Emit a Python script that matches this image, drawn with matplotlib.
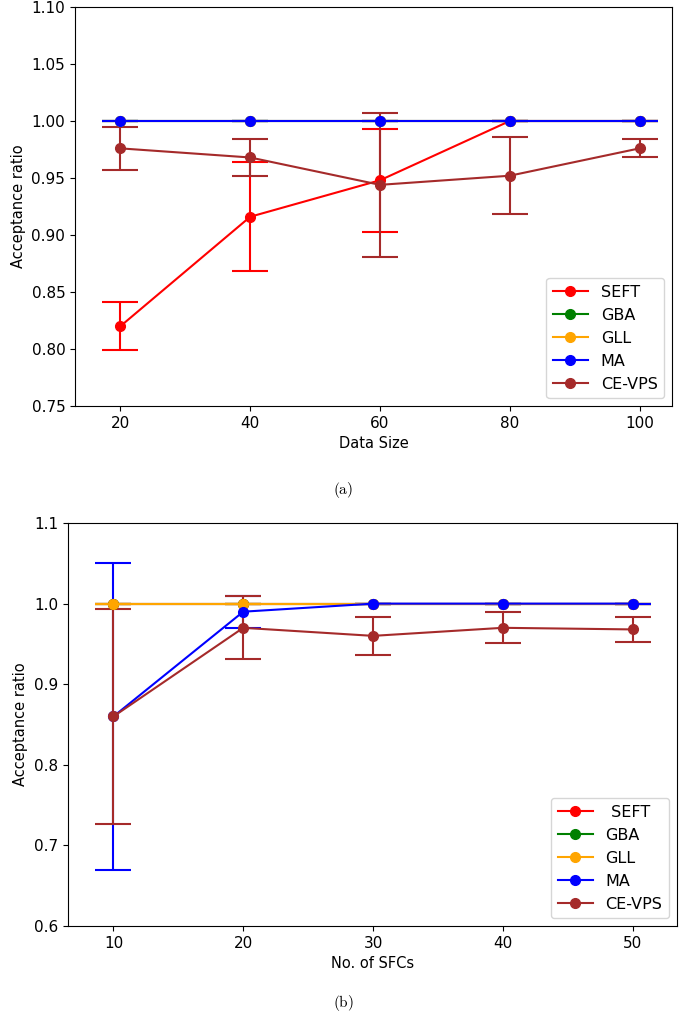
import matplotlib
matplotlib.use("Agg")
import matplotlib.pyplot as plt

plt.rcParams['mathtext.fontset'] = 'cm'

names = ['SEFT', 'GBA', 'GLL', 'MA', 'CE-VPS']
names_b = [' SEFT', 'GBA', 'GLL', 'MA', 'CE-VPS']
colors = ['red', 'green', 'orange', 'blue', 'brown']

# (a) acceptance ratio vs data size
size = [20, 40, 60, 80, 100]
a_mean = {
    'SEFT': [0.820, 0.916, 0.948, 1.0, 1.0],
    'GBA': [1.0, 1.0, 1.0, 1.0, 1.0],
    'GLL': [1.0, 1.0, 1.0, 1.0, 1.0],
    'MA': [1.0, 1.0, 1.0, 1.0, 1.0],
    'CE-VPS': [0.976, 0.968, 0.944, 0.952, 0.976],
}
a_err = {
    'SEFT': [0.021, 0.048, 0.045, 0.0, 0.0],
    'GBA': [0, 0, 0, 0, 0],
    'GLL': [0, 0, 0, 0, 0],
    'MA': [0, 0, 0, 0, 0],
    'CE-VPS': [0.019, 0.016, 0.063, 0.034, 0.008],
}

# (b) acceptance ratio vs number of SFCs
sfcs = [10, 20, 30, 40, 50]
b_mean = {
    'SEFT': [1.0, 1.0, 1.0, 1.0, 1.0],
    'GBA': [1.0, 1.0, 1.0, 1.0, 1.0],
    'GLL': [1.0, 1.0, 1.0, 1.0, 1.0],
    'MA': [0.86, 0.99, 1.0, 1.0, 1.0],
    'CE-VPS': [0.86, 0.97, 0.96, 0.97, 0.968],
}
b_err = {
    'SEFT': [0, 0, 0, 0, 0],
    'GBA': [0, 0, 0, 0, 0],
    'GLL': [0, 0, 0, 0, 0],
    'MA': [0.191, 0.02, 0.0, 0.0, 0.0],
    'CE-VPS': [0.133, 0.039, 0.024, 0.019, 0.015],
}

fig = plt.figure(figsize=(6.85, 10.19), dpi=100)
ax1 = fig.add_axes([0.1095, 0.6016, 0.8715, 0.3915])
ax2 = fig.add_axes([0.0993, 0.0913, 0.8887, 0.3954])


def draw(ax, x, mean, err, labels):
    handles = []
    for n, lab, c in zip(names, labels, colors):
        eb = ax.errorbar(x, mean[n], yerr=err[n], fmt='-o', color=c, label=lab,
                         lw=1.5, ms=7, capsize=13, capthick=1.5, elinewidth=1.5)
        handles.append(eb.lines[0])
    ax.legend(handles=handles, labels=labels, loc='lower right', fontsize=11.5,
              handlelength=2.2)
    ax.tick_params(labelsize=11)
    ax.set_ylabel('Acceptance ratio', fontsize=10.5)


draw(ax1, size, a_mean, a_err, names)
ax1.set_xlim(13, 105)
ax1.set_ylim(0.75, 1.10)
ax1.set_xticks(size)
ax1.set_yticks([0.75, 0.80, 0.85, 0.90, 0.95, 1.00, 1.05, 1.10])
ax1.set_yticklabels(['%.2f' % v for v in ax1.get_yticks()])
ax1.set_xlabel('Data Size', fontsize=10.5)

draw(ax2, sfcs, b_mean, b_err, names_b)
ax2.set_xlim(6.5, 53.4)
ax2.set_ylim(0.6, 1.1)
ax2.set_xticks(sfcs)
ax2.set_yticks([0.6, 0.7, 0.8, 0.9, 1.0, 1.1])
ax2.set_xlabel('No. of SFCs', fontsize=10.5)

fig.text(0.501, 1 - 490 / 1019, r'$\mathrm{(a)}$', ha='center', va='center', fontsize=11)
fig.text(0.501, 1 - 1003 / 1019, r'$\mathrm{(b)}$', ha='center', va='center', fontsize=11)

fig.savefig('out.png', dpi=100)
